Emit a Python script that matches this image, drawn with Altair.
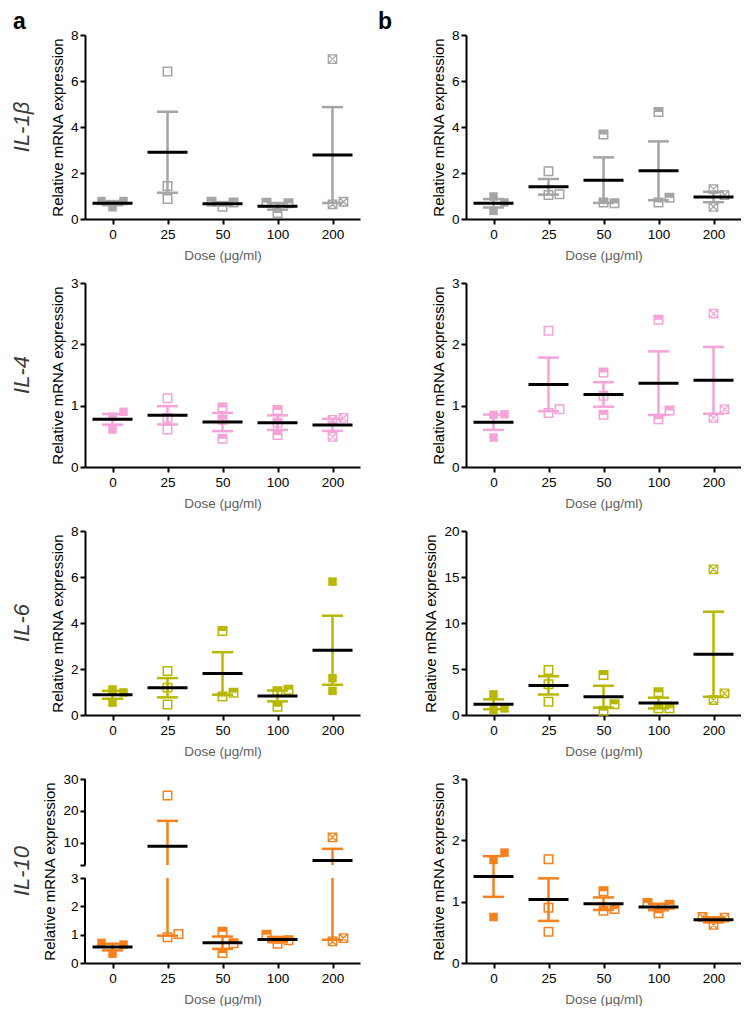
import altair as alt
import pandas as pd
import numpy as np

doses = ["0", "25", "50", "100", "200"]
genes = ["IL-1β", "IL-4", "IL-6", "IL-10"]
colors = ["#a5a5a5", "#f5a3d8", "#b9b800", "#f7801c"]

# three replicate values per dose (0, 25, 50, 100, 200 µg/ml)
a_il1b = [[0.51, 0.78, 0.78], [6.41, 1.43, 0.87], [0.53, 0.72, 0.75], [0.26, 0.68, 0.71], [6.95, 0.64, 0.75]]
a_il4 = [[0.82, 0.61, 0.90], [1.12, 0.80, 0.61], [0.97, 0.77, 0.46], [0.93, 0.72, 0.52], [0.77, 0.49, 0.80]]
a_il6 = [[1.11, 0.54, 0.98], [1.91, 1.19, 0.46], [3.65, 0.80, 0.97], [1.03, 0.36, 1.10], [5.80, 1.60, 1.05]]
a_il10 = [[0.33, 0.65, 0.71], [24.8, 0.91, 1.02], [1.10, 0.35, 0.70], [0.68, 0.80, 1.00], [11.7, 0.76, 0.88]]

b_il1b = [[0.98, 0.35, 0.72], [2.08, 1.04, 1.08], [3.67, 0.72, 0.68], [4.65, 0.72, 0.92], [1.30, 0.53, 1.04]]
b_il4 = [[0.85, 0.48, 0.86], [2.22, 0.88, 0.94], [1.54, 1.16, 0.85], [2.40, 0.78, 0.92], [2.50, 0.80, 0.94]]
b_il6 = [[2.24, 0.54, 0.72], [4.88, 3.33, 1.45], [4.34, 0.47, 1.16], [2.46, 0.72, 0.72], [15.84, 1.63, 2.35]]
b_il10 = [[1.68, 0.75, 1.80], [1.69, 0.90, 0.51], [1.17, 0.85, 0.88], [0.81, 0.95, 0.98], [0.62, 0.74, 0.75]]

data = {"a": [a_il1b, a_il4, a_il6, a_il10], "b": [b_il1b, b_il4, b_il6, b_il10]}
ymax = {"a": [8, 3, 8, 30], "b": [8, 3, 20, 3]}
yticks = {8: [0, 2, 4, 6, 8], 3: [0, 1, 2, 3], 20: [0, 5, 10, 15, 20]}

W, H = 275, 184
STEP = W / len(doses)
JIT = 11.0
BRK = 3.0
BRK2 = 3.001
broken_range = [H, 99, 86, 0]

FONT = "Liberation Sans"
HALF_TOP = "M-1,-1L1,-1L1,0L-1,0Z"
CROSSED = "M-1,-1L1,-1L1,1L-1,1ZM-1,-1L1,1M1,-1L-1,1"
default_styles = ["filled", "open", "half", "half", "crossed"]
style_override = {("a", 2): {4: "filled"}}


def px_func(dmax, broken):
    if broken:
        def f(v):
            if v <= BRK:
                return v / BRK * (H - broken_range[1])
            return (H - broken_range[2]) + (v - BRK2) / (30 - BRK2) * broken_range[2]
        return f
    return lambda v: v / dmax * H


def place(vals, px):
    placed, out = [], []
    for v in vals:
        p = px(v)
        chosen = 0
        for s in [0, 1, -1, 2, -2]:
            if all(not (ps == s and abs(pp - p) < JIT) for pp, ps in placed):
                chosen = s
                break
        placed.append((p, chosen))
        out.append(chosen)
    return out


label_expr = "[" + ",".join("'%s'" % d for d in doses) + "][datum.value]"


def panel(col, gi):
    vals = data[col][gi]
    color = colors[gi]
    broken = (col == "a" and gi == 3)
    dmax = ymax[col][gi]
    px = px_func(dmax, broken)
    styles = list(default_styles)
    for k, s in style_override.get((col, gi), {}).items():
        styles[k] = s

    pts, errs, caps, means = [], [], [], []
    for di, trip in enumerate(vals):
        sl = place(trip, px)
        for v, s in zip(trip, sl):
            pts.append(dict(xi=di + s * JIT / STEP, v=v, style=styles[di]))
        arr = np.array(trip)
        m = arr.mean()
        se = arr.std(ddof=1) / np.sqrt(len(arr))
        lo, hi = m - se, m + se
        if broken and lo < BRK < hi:
            errs.append(dict(xi=di, lo=lo, hi=BRK))
            errs.append(dict(xi=di, lo=BRK2, hi=hi))
        else:
            errs.append(dict(xi=di, lo=lo, hi=hi))
        caps.append(dict(xi=di, v=lo))
        caps.append(dict(xi=di, v=hi))
        means.append(dict(xi=di, v=m))
    pts = pd.DataFrame(pts)
    errs = pd.DataFrame(errs)
    caps = pd.DataFrame(caps)
    means = pd.DataFrame(means)

    xenc = alt.X("xi:Q", scale=alt.Scale(domain=[-0.5, len(doses) - 0.5], nice=False, zero=False),
                 axis=alt.Axis(values=list(range(len(doses))), labelExpr=label_expr,
                               title="Dose (μg/ml)", grid=False))
    if broken:
        yscale = alt.Scale(domain=[0, BRK, BRK2, 30], range=broken_range, nice=False, zero=False)
        yaxis = alt.Axis(values=[0, 1, 2, 3, BRK2, 10, 20, 30], domain=False,
                         labelExpr="datum.value == %s ? '' : datum.label" % BRK2,
                         title="Relative mRNA expression")
    else:
        yscale = alt.Scale(domain=[0, dmax], nice=False, zero=False)
        yaxis = alt.Axis(values=yticks[dmax], title="Relative mRNA expression")

    def Y(field):
        return alt.Y(field, scale=yscale, axis=yaxis)

    layers = []
    layers.append(alt.Chart(errs).mark_rule(color=color, strokeWidth=2.5).encode(
        x=xenc, y=Y("lo:Q"), y2="hi:Q"))
    layers.append(alt.Chart(caps).mark_tick(orient="horizontal", size=21, thickness=2.5, color=color,
                                            opacity=1).encode(x=xenc, y=Y("v:Q")))
    base = alt.Chart(pts)
    layers.append(base.transform_filter("datum.style == 'filled'").mark_point(
        shape="square", filled=True, size=72, color=color, opacity=1).encode(x=xenc, y=Y("v:Q")))
    layers.append(base.transform_filter("datum.style == 'open' || datum.style == 'half'").mark_point(
        shape="square", filled=False, size=72, color=color, strokeWidth=1.5, opacity=1).encode(x=xenc, y=Y("v:Q")))
    layers.append(base.transform_filter("datum.style == 'half'").mark_point(
        shape=HALF_TOP, filled=True, size=72, color=color, opacity=1).encode(x=xenc, y=Y("v:Q")))
    layers.append(base.transform_filter("datum.style == 'crossed'").mark_point(
        shape=CROSSED, filled=False, size=72, color=color, strokeWidth=1.3, opacity=1).encode(x=xenc, y=Y("v:Q")))
    layers.append(alt.Chart(means).mark_tick(orient="horizontal", size=40, thickness=3, color="black",
                                             opacity=1).encode(x=xenc, y=Y("v:Q")))
    if broken:
        segs = pd.DataFrame({"y": [0, BRK2], "y2": [BRK, 30]})
        layers.append(alt.Chart(segs).mark_rule(color="black", strokeWidth=2).encode(
            x=alt.value(0), y=Y("y:Q"), y2="y2:Q"))

    if col == "a":
        layers.append(alt.Chart(pd.DataFrame({"t": [genes[gi]]})).mark_text(
            angle=270, align="center", baseline="middle", fontSize=22, fontStyle="italic",
            font=FONT, color="#3a3a3a").encode(text="t:N", x=alt.value(-63), y=alt.value(H / 2)))
    if gi == 0:
        layers.append(alt.Chart(pd.DataFrame({"t": [col]})).mark_text(
            align="left", baseline="top", fontSize=23, fontWeight="bold",
            font=FONT, color="black").encode(text="t:N", x=alt.value(-72 if col == "a" else -88),
                                              y=alt.value(-24)))

    return alt.layer(*layers).properties(width=W, height=H)


colA = alt.vconcat(*[panel("a", i) for i in range(4)], spacing=14)
colB = alt.vconcat(*[panel("b", i) for i in range(4)], spacing=14)

chart = alt.hconcat(colA, colB, spacing=18).properties(
    padding={"left": 3, "top": 3, "right": 0, "bottom": 0}
).configure_view(stroke=None).configure_axis(
    domainColor="black", domainWidth=2, tickColor="black", tickWidth=2, tickSize=5,
    labelColor="black", labelFont=FONT, labelFontSize=13.5, labelPadding=2,
    titleFont=FONT, titleFontWeight="normal", titleColor="black", grid=False
).configure_axisX(titleColor="#606060", titleFontSize=13.5, titlePadding=8, labelAngle=0, labelPadding=3
).configure_axisY(titlePadding=5, titleFontSize=15)

chart.save("out.html", embed_options={"renderer": "svg", "actions": False})
